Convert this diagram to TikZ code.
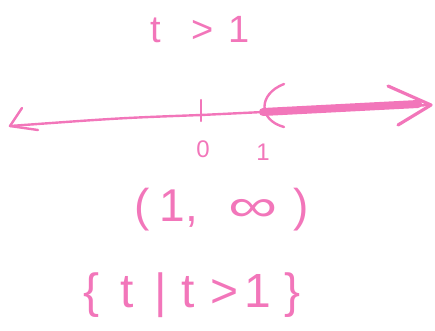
\documentclass[tikz,border=0pt]{standalone}
\usepackage{fontspec}
\setmainfont{Liberation Sans}
\definecolor{ink}{RGB}{242,118,186}
\begin{document}
\begin{tikzpicture}[x=1pt,y=-1pt,
  pen/.style={draw=ink,line width=2.4pt,line cap=round,line join=round},
  lbl/.style={text=ink,inner sep=0pt,font=\fontsize{38}{42}\selectfont}]
\useasboundingbox (0,0) rectangle (435,330);
% top inequality
\node[lbl] (ineq) at (200,30) {t\hspace{31pt}>\hspace{15pt}1};
% number line
\coordinate (L) at (10,126);
\coordinate (Z) at (201,115);
\coordinate (O) at (263,112);
\coordinate (R) at (431,105);
\draw[pen] (L) .. controls (120,118) .. (Z) -- (O) -- (R);
% left arrowhead
\draw[pen] (22,108) -- (L) -- (38,130);
% thick ray
\draw[draw=ink,line width=8pt,line cap=round] (O) -- (418,104);
% right arrowhead
\draw[pen,line width=3.2pt] (388,86) -- (R) -- (398,125);
% tick at 0
\draw[pen] (201,100) -- (201,121);
% open parenthesis at 1
\draw[pen] (284,84) .. controls (258,94) and (258,120) .. (284,127);
% tick labels
\node[lbl,font=\fontsize{24}{28}\selectfont] (zero) at (203,149) {0};
\node[lbl,font=\fontsize{24}{28}\selectfont] (one) at (263,152) {1};
% interval notation
\node[lbl,font=\fontsize{46}{50}\selectfont] (intv) at (222,210) {(\hspace{9pt}1\hspace{1pt},\hspace{30pt}\scalebox{1.5}[1]{∞}\hspace{16pt})};
% set-builder notation
\node[lbl,font=\fontsize{48}{52}\selectfont] (setb) at (192,295) {\{\hspace{21pt}t\hspace{21pt}|\hspace{15pt}t\hspace{15pt}>\hspace{6pt}1\hspace{14pt}\}};
\end{tikzpicture}
\end{document}
